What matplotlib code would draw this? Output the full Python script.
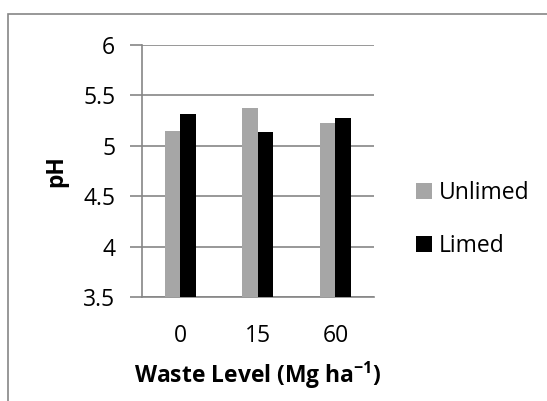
import matplotlib
matplotlib.use('Agg')
import matplotlib.pyplot as plt
import numpy as np
from matplotlib.patches import Rectangle

# data
waste_levels = ['0', '15', '60']
unlimed = [5.15, 5.37, 5.22]
limed = [5.31, 5.14, 5.27]

plt.rcParams['font.family'] = ['Open Sans', 'DejaVu Sans']
plt.rcParams['mathtext.fontset'] = 'custom'
plt.rcParams['mathtext.rm'] = 'Open Sans'
plt.rcParams['mathtext.bf'] = 'Open Sans:bold'

fs = 16.5

fig = plt.figure(figsize=(5.47, 4.01), dpi=100)
ax = fig.add_axes([0.259, 0.2586, 0.425, 0.630])

x = np.arange(len(waste_levels))
w = 0.2
ax.bar(x - w / 2, unlimed, w, color='#a6a6a6', label='Unlimed', zorder=3)
ax.bar(x + w / 2, limed, w, color='#000000', label='Limed', zorder=3)

ax.set_xlim(-0.5, 2.5)
ax.set_ylim(3.5, 6)
ax.set_yticks(np.arange(3.5, 6.01, 0.5))
ax.set_yticklabels(['3.5', '4', '4.5', '5', '5.5', '6'])
ax.set_xticks(x)
ax.set_xticklabels(waste_levels)

grid_c = '#868686'
ax.grid(axis='y', color=grid_c, linewidth=1.2, zorder=0)
for s in ['top', 'right']:
    ax.spines[s].set_visible(False)
for s in ['left', 'bottom']:
    ax.spines[s].set_color(grid_c)
    ax.spines[s].set_linewidth(1.2)
ax.tick_params(axis='y', length=9, width=1.2, color=grid_c, labelsize=fs, pad=10)
ax.tick_params(axis='x', length=0, labelsize=fs, pad=19)

ax.set_ylabel('pH', fontsize=fs, fontweight='bold', labelpad=11)
ax.set_xlabel('Waste Level (Mg ha$^{\\mathbf{-1}}$)', fontsize=fs, fontweight='bold', labelpad=9)

h, l = ax.get_legend_handles_labels()
fig.legend(h, l, loc='center left', bbox_to_anchor=(0.760, 0.4526), frameon=False,
           fontsize=fs, handlelength=0.7, handleheight=0.7, handletextpad=0.3,
           labelspacing=1.25, borderpad=0, borderaxespad=0)

# outer chart border
fig.add_artist(Rectangle((0.0155, -0.2), 1.5, 1.165, transform=fig.transFigure,
                         fill=False, edgecolor=grid_c, linewidth=1.2))

fig.savefig('out.png', dpi=100)
